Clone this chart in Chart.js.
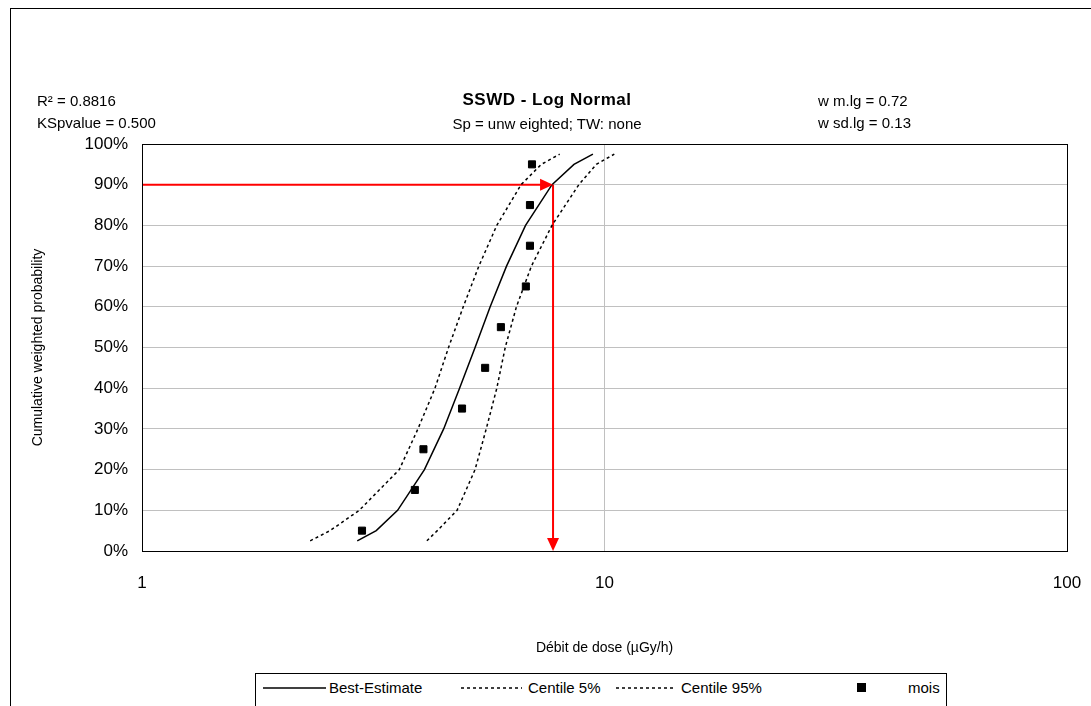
<!DOCTYPE html>
<html lang="fr">
<head>
<meta charset="UTF-8">
<title>SSWD - Log Normal</title>
<script src="https://cdn.jsdelivr.net/npm/chart.js"></script>
<style>
  body { margin: 0; width: 1091px; height: 706px; overflow: hidden; background: #fff; font-family: "Liberation Sans", Arial, sans-serif; }
  #frame { position: absolute; left: 10px; top: 8px; width: 1090px; height: 720px; border: 1px solid #000; }
  .t { position: absolute; font-size: 15px; color: #000; white-space: nowrap; }
  #legend { position: absolute; left: 255px; top: 673px; width: 690px; height: 40px; border: 1px solid #000; background: #fff; font-size: 15px; }
  #legend span { position: absolute; top: 5px; }
  canvas { position: absolute; left: 0; top: 0; }
</style>
</head>
<body>
<div id="frame"></div>
<canvas id="sswd" width="1091" height="706"></canvas>
<div class="t" style="left:37px;top:92px">R² = 0.8816</div>
<div class="t" style="left:37px;top:114px">KSpvalue = 0.500</div>
<div class="t" style="left:547px;top:90px;transform:translateX(-50%);font-weight:bold;font-size:17px;letter-spacing:0.5px">SSWD - Log Normal</div>
<div class="t" style="left:547px;top:115px;transform:translateX(-50%)">Sp = unw eighted; TW: none</div>
<div class="t" style="left:818px;top:92px">w m.lg = 0.72</div>
<div class="t" style="left:818px;top:114px">w sd.lg = 0.13</div>
<div id="legend">
  <svg width="690" height="30" style="position:absolute;left:0;top:0">
    <line x1="7" y1="14" x2="70" y2="14" stroke="#000" stroke-width="1.5"/>
    <line x1="205" y1="14" x2="266" y2="14" stroke="#000" stroke-width="1.5" stroke-dasharray="3,3"/>
    <line x1="360" y1="14" x2="420" y2="14" stroke="#000" stroke-width="1.5" stroke-dasharray="3,3"/>
    <rect x="601" y="9" width="9" height="9" fill="#000"/>
  </svg>
  <span style="left:73px">Best-Estimate</span>
  <span style="left:272px">Centile 5%</span>
  <span style="left:425px">Centile 95%</span>
  <span style="left:652px">mois</span>
</div>
<script>
var probs = [2.5, 5, 10, 20, 30, 40, 50, 60, 70, 80, 90, 95, 97.5];
var bestEstimate = [2.92, 3.21, 3.57, 4.08, 4.49, 4.86, 5.25, 5.66, 6.14, 6.75, 7.70, 8.59, 9.44];
var centile5 = [2.31, 2.55, 2.95, 3.6, 3.95, 4.3, 4.6, 4.95, 5.35, 5.85, 6.6, 7.3, 8.0];
var centile95 = [4.13, 4.35, 4.8, 5.25, 5.55, 5.85, 6.1, 6.45, 6.95, 7.7, 8.8, 9.6, 10.5];
var moisX = [2.99, 3.89, 4.06, 4.92, 5.52, 5.97, 6.76, 6.90, 6.90, 6.97];
var moisY = [5, 15, 25, 35, 45, 55, 65, 75, 85, 95];
var hc5 = 7.74; // HC at 90%
var xTicks = [1, 10, 100];

function pts(xs, ys) { return xs.map(function (x, i) { return { x: x, y: ys[i] }; }); }

var arrowHeads = {
  id: 'arrowHeads',
  afterDatasetsDraw: function (chart) {
    var c = chart.ctx, xs = chart.scales.x, ys = chart.scales.y;
    var px = xs.getPixelForValue(hc5), py = ys.getPixelForValue(90), pb = ys.getPixelForValue(0);
    c.save();
    c.fillStyle = '#ff0000';
    c.beginPath(); c.moveTo(px, py); c.lineTo(px - 13, py - 6); c.lineTo(px - 13, py + 6); c.closePath(); c.fill();
    c.beginPath(); c.moveTo(px, pb); c.lineTo(px - 6, pb - 13); c.lineTo(px + 6, pb - 13); c.closePath(); c.fill();
    var a = chart.chartArea;
    c.strokeStyle = '#000'; c.lineWidth = 1;
    c.strokeRect(a.left + 0.5, a.top + 0.5, a.right - a.left, a.bottom - a.top);
    c.restore();
  }
};

new Chart(document.getElementById('sswd').getContext('2d'), {
  type: 'scatter',
  data: {
    datasets: [
      { label: 'Best-Estimate', data: pts(bestEstimate, probs), showLine: true, borderColor: '#000', borderWidth: 1.5, pointRadius: 0 },
      { label: 'Centile 5%', data: pts(centile5, probs), showLine: true, borderColor: '#000', borderWidth: 1.5, borderDash: [3, 3], pointRadius: 0 },
      { label: 'Centile 95%', data: pts(centile95, probs), showLine: true, borderColor: '#000', borderWidth: 1.5, borderDash: [3, 3], pointRadius: 0 },
      { label: 'mois', data: pts(moisX, moisY), pointStyle: 'rect', pointRadius: 5, backgroundColor: '#000', borderColor: '#000' },
      { label: 'h', data: [{ x: 1, y: 90 }, { x: hc5 - 0.3, y: 90 }], showLine: true, borderColor: '#ff0000', borderWidth: 2, pointRadius: 0 },
      { label: 'v', data: [{ x: hc5, y: 90 }, { x: hc5, y: 2 }], showLine: true, borderColor: '#ff0000', borderWidth: 2, pointRadius: 0 }
    ]
  },
  options: {
    responsive: false,
    animation: false,
    layout: { padding: { top: 144, left: 30, right: 24, bottom: 45 } },
    plugins: { legend: { display: false }, tooltip: { enabled: false } },
    scales: {
      x: {
        type: 'logarithmic', min: 1, max: 100,
        afterBuildTicks: function (s) { s.ticks = xTicks.map(function (v) { return { value: v }; }); },
        afterFit: function (s) { s.height = 110; s.paddingLeft = 0; s.paddingRight = 0; },
        ticks: { color: '#000', font: { family: 'Liberation Sans', size: 17 }, padding: 22, callback: function (v) { return String(v); } },
        grid: { color: '#c0c0c0', drawTicks: false },
        title: { display: true, text: 'Débit de dose (µGy/h)', color: '#000', font: { family: 'Liberation Sans', size: 14 }, padding: { top: 0, bottom: 4 } }
      },
      y: {
        min: 0, max: 100,
        afterFit: function (s) { s.width = 112; },
        ticks: { stepSize: 10, color: '#000', font: { family: 'Liberation Sans', size: 17 }, padding: 14, callback: function (v) { return v + '%'; } },
        grid: { color: '#c0c0c0', drawTicks: false },
        title: { display: true, text: 'Cumulative weighted probability', color: '#000', font: { family: 'Liberation Sans', size: 14 }, padding: { top: 0, bottom: 0 } }
      }
    }
  },
  plugins: [arrowHeads]
});
</script>
</body>
</html>
